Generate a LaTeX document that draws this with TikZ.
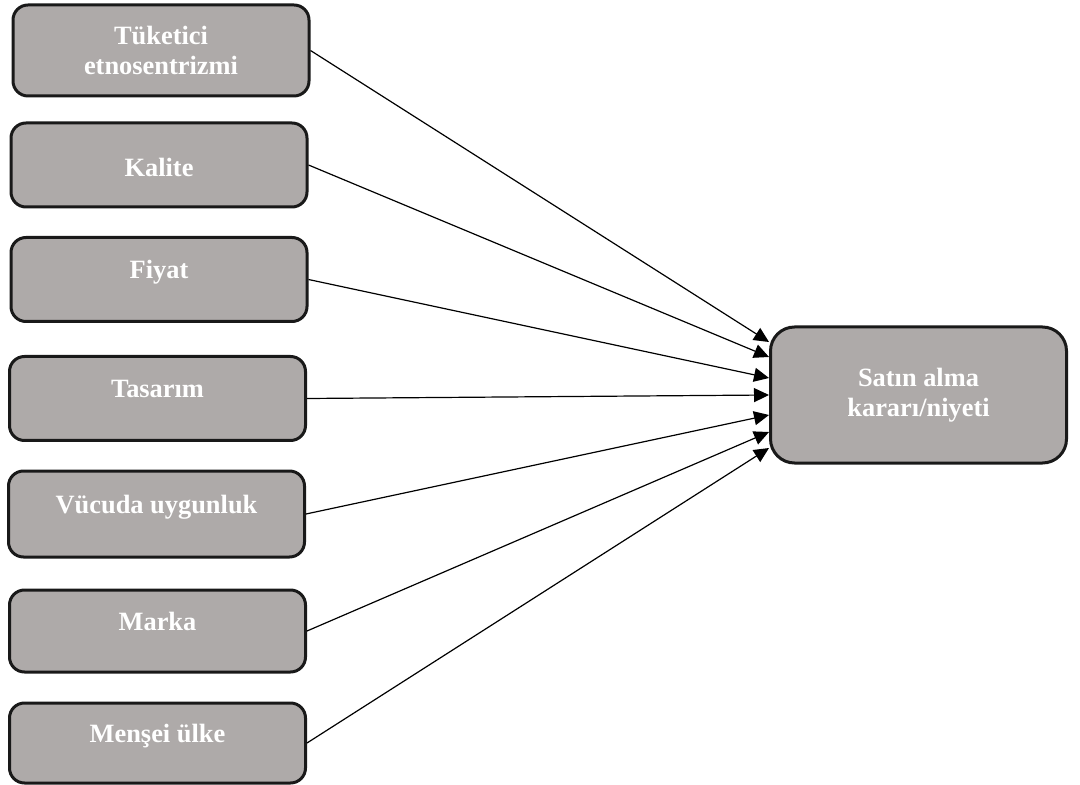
\documentclass[tikz,border=0pt]{standalone}
\usepackage{fontspec}
\setmainfont{Liberation Serif}
\usetikzlibrary{arrows.meta}
\definecolor{boxgray}{RGB}{174,170,169}
\tikzset{
  factor/.style={draw=black!90,line width=1.5pt,fill=boxgray,rounded corners=7.5pt,
    text=white,font=\bfseries\fontsize{13.2}{15}\selectfont,align=center,
    minimum width=148pt,minimum height=42pt,inner sep=0pt},
  lift/.style={text height=9pt,text depth=10pt},
  flat/.style={text height=14pt,text depth=2.7pt},
  link/.style={line width=.6pt,-{Triangle[length=7.5pt,width=7pt]}}
}
\begin{document}
\begin{tikzpicture}[x=.5pt,y=-.5pt]
\useasboundingbox (0,0) rectangle (1080,785);
%
\node[factor,minimum height=45.5pt] (ethno) at (161,50.5) {Tüketici\\etnosentrizmi};
\node[factor,flat] (quality) at (159,165) {Kalite};
\node[factor,lift] (price) at (159,279.5) {Fiyat};
\node[factor,lift] (design) at (157.5,398.5) {Tasarım};
\node[factor,lift,minimum height=43pt] (fit) at (156.5,514) {Vücuda uygunluk};
\node[factor,lift,minimum height=41pt] (brand) at (157.5,631) {Marka};
\node[factor,lift,minimum height=40pt] (origin) at (157.5,743) {Menşei ülke};
%
\node[factor,rounded corners=12pt,minimum height=68pt] (buy) at (918.5,395) {Satın alma\\kararı/niyeti};
%
\coordinate (in1) at ([yshift=26.5pt]buy.west);
\coordinate (in2) at ([yshift=19pt]buy.west);
\coordinate (in3) at ([yshift=8.5pt]buy.west);
\coordinate (in4) at (buy.west);
\coordinate (in5) at ([yshift=-10pt]buy.west);
\coordinate (in6) at ([yshift=-18.5pt]buy.west);
\coordinate (in7) at ([yshift=-26.5pt]buy.west);
%
\draw[link] (ethno.east) -- (in1);
\draw[link] (quality.east) -- (in2);
\draw[link] (price.east) -- (in3);
\draw[link] (design.east) -- (in4);
\draw[link] (fit.east) -- (in5);
\draw[link] (brand.east) -- (in6);
\draw[link] (origin.east) -- (in7);
\end{tikzpicture}
\end{document}
